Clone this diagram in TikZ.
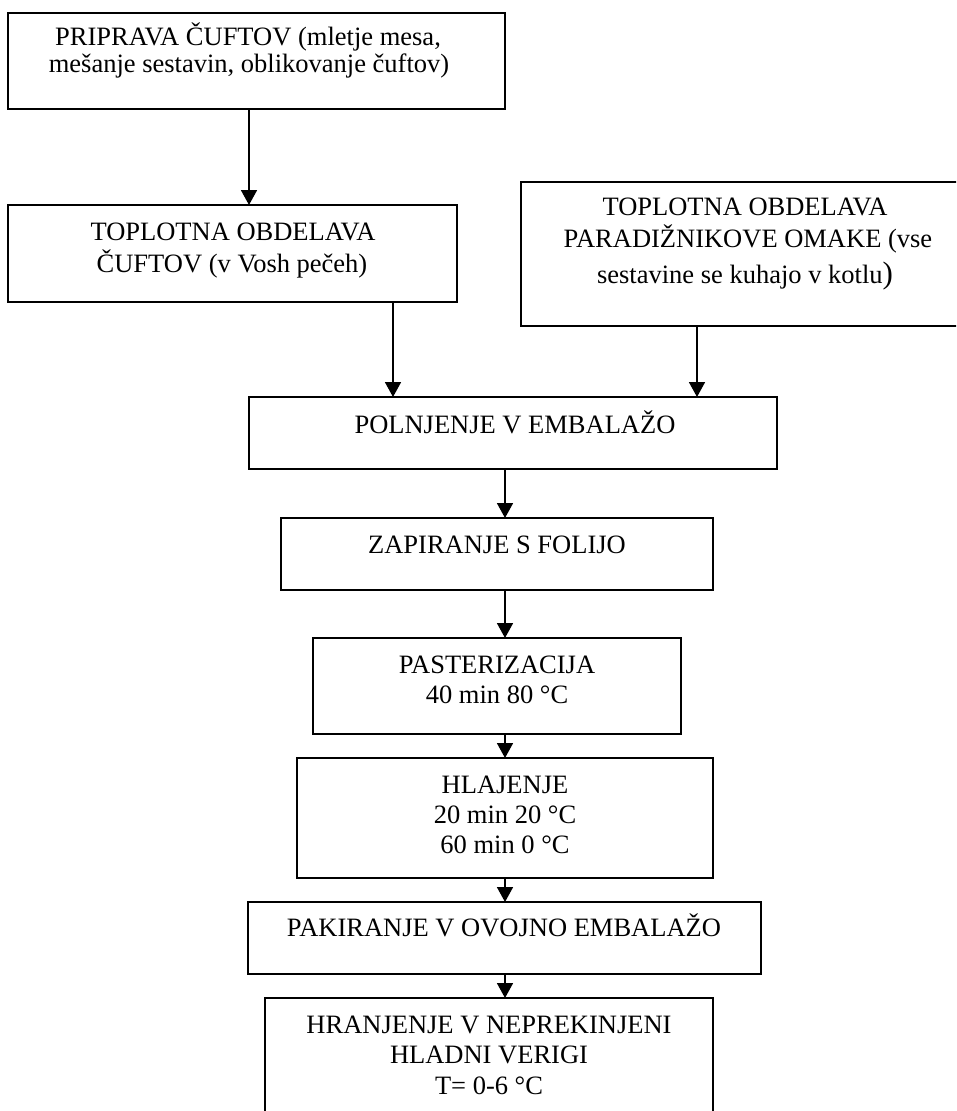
\documentclass[tikz,border=0pt]{standalone}
\usepackage{fontspec}
\setmainfont{Liberation Serif}
\usetikzlibrary{arrows.meta}
\begin{document}
\begin{tikzpicture}[x=1pt,y=-1pt,
  box/.style={draw, line width=1.8pt, rectangle, inner sep=0pt, outer sep=0pt},
  ln/.style={inner sep=0pt, outer sep=0pt, anchor=base, font=\fontsize{26.5}{30}\selectfont},
  arr/.style={line width=1.8pt, -{Triangle[width=16pt,length=15pt]}}]
\useasboundingbox (0,0) rectangle (956,1111);
\clip (0,0) rectangle (956,1111);
% boxes
\node[box, minimum width=497pt, minimum height=96pt] (b1) at (256.5,61) {};
\node[box, minimum width=449pt, minimum height=97pt] (b2) at (232.5,253.5) {};
\node[box, minimum width=450pt, minimum height=144pt] (b3) at (746,254) {};
\node[box, minimum width=528pt, minimum height=72pt] (b4) at (513,433) {};
\node[box, minimum width=432pt, minimum height=72pt] (b5) at (497,554) {};
\node[box, minimum width=368pt, minimum height=96pt] (b6) at (497,686) {};
\node[box, minimum width=416pt, minimum height=120pt] (b7) at (505,818) {};
\node[box, minimum width=513pt, minimum height=72pt] (b8) at (504.5,938) {};
\node[box, minimum width=448pt, minimum height=142pt] (b9) at (489,1069) {};
% texts
\node[ln] (t1a) at (248,45) {PRIPRAVA ČUFTOV (mletje mesa,};
\node[ln] (t1b) at (249,72) {mešanje sestavin, oblikovanje čuftov)};
\node[ln] (t2a) at (233,240) {TOPLOTNA OBDELAVA};
\node[ln] (t2b) at (232,272) {ČUFTOV (v Vosh pečeh)};
\node[ln] (t3a) at (745,215) {TOPLOTNA OBDELAVA};
\node[ln] (t3b) at (748,247) {PARADIŽNIKOVE OMAKE (vse};
\node[ln] (t3c) at (745,283) {sestavine se kuhajo v kotlu{\fontsize{31}{31}\selectfont )}};
\node[ln] (t4) at (515,433) {POLNJENJE V EMBALAŽO};
\node[ln] (t5) at (497,553) {ZAPIRANJE S FOLIJO};
\node[ln] (t6a) at (497,673) {PASTERIZACIJA};
\node[ln] (t6b) at (497,703) {40 min 80 °C};
\node[ln] (t7a) at (505,793) {HLAJENJE};
\node[ln] (t7b) at (505,823) {20 min 20 °C};
\node[ln] (t7c) at (505,853) {60 min 0 °C};
\node[ln] (t8) at (504,936) {PAKIRANJE V OVOJNO EMBALAŽO};
\node[ln] (t9a) at (489,1033) {HRANJENJE V NEPREKINJENI};
\node[ln] (t9b) at (489,1063) {HLADNI VERIGI};
\node[ln] (t9c) at (489,1094) {T= 0-6 °C};
% connectors
\coordinate (xa) at (249,0);
\coordinate (xb) at (393,0);
\coordinate (xc) at (697,0);
\coordinate (xm) at (505,0);
\draw[arr] (b1.south -| xa) -- (b2.north -| xa);
\draw[arr] (b2.south -| xb) -- (b4.north -| xb);
\draw[arr] (b3.south -| xc) -- (b4.north -| xc);
\draw[arr] (b4.south -| xm) -- (b5.north -| xm);
\draw[arr] (b5.south -| xm) -- (b6.north -| xm);
\draw[arr] (b6.south -| xm) -- (b7.north -| xm);
\draw[arr] (b7.south -| xm) -- (b8.north -| xm);
\draw[arr] (b8.south -| xm) -- (b9.north -| xm);
\end{tikzpicture}
\end{document}
